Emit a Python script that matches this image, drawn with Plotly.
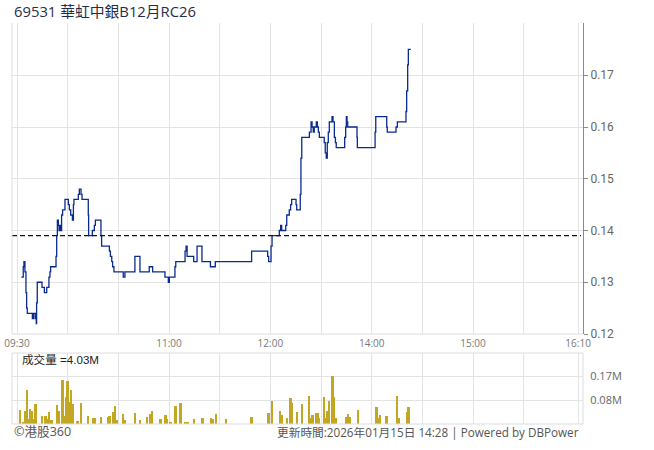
import plotly.graph_objects as go

# ---------------- data ----------------
title_text = "69531 華虹中銀B12月RC26"
prev_close = 0.139
volume_label = "成交量 =4.03M"
footer_left = "©港股360"
footer_right = "更新時間:2026年01月15日 14:28 | Powered by DBPower"

# trading minutes elapsed since 09:30 (lunch break removed) and traded price
price_elapsed_min = [
    2.6, 3.7, 4.1, 4.7, 5.3, 5.7, 6.1, 9.1, 9.7, 10.7, 11.1, 11.4, 11.6, 12.0,
    14.8, 16.2, 17.6, 18.9, 19.5, 19.9, 23.1, 23.5, 23.9, 24.5, 24.9, 25.5, 25.9,
    26.4, 27.0, 28.4, 30.4, 31.0, 31.8, 32.8, 33.4, 33.7, 36.3, 36.9, 37.9, 38.5,
    42.2, 42.4, 44.6, 45.8, 46.4, 49.7, 50.1, 54.7, 55.3, 56.1, 56.6, 57.4, 62.9,
    63.9, 69.8, 72.8, 78.3, 80.3, 87.6, 89.6, 90.2, 93.5, 94.0, 99.5, 100.1, 100.7,
    104.6, 106.6, 109.5, 114.5, 117.4, 138.9, 148.4, 149.0, 150.4, 151.0, 155.3,
    156.1, 156.7, 159.1, 159.7, 161.2, 162.0, 162.6, 165.2, 165.6, 167.7, 168.1,
    168.6, 173.1, 174.1, 174.7, 175.4, 176.0, 177.2, 177.8, 178.4, 179.0, 181.9,
    182.5, 183.1, 183.7, 184.3, 184.9, 186.5, 187.1, 187.9, 188.5, 189.0, 194.0,
    194.6, 195.0, 195.4, 195.8, 201.3, 201.5, 212.0, 212.4, 218.9, 219.2, 224.4,
    225.2, 230.3, 230.7, 231.3, 231.7, 233.1,
]
price_values = [
    0.131, 0.133, 0.134, 0.132, 0.128, 0.125, 0.124, 0.123, 0.124, 0.123, 0.124, 0.122, 0.126, 0.130,
    0.129, 0.128, 0.129, 0.131, 0.132, 0.133, 0.135, 0.139, 0.142, 0.141, 0.140, 0.141, 0.140,
    0.143, 0.144, 0.146, 0.145, 0.144, 0.143, 0.142, 0.145, 0.146, 0.147, 0.148, 0.147, 0.146,
    0.143, 0.139, 0.140, 0.141, 0.142, 0.139, 0.137, 0.136, 0.135, 0.134, 0.133, 0.132, 0.131,
    0.132, 0.135, 0.132, 0.133, 0.132, 0.131, 0.130, 0.131, 0.133, 0.134, 0.136, 0.137, 0.135,
    0.134, 0.137, 0.134, 0.133, 0.134, 0.136, 0.135, 0.134, 0.137, 0.139, 0.140,
    0.141, 0.140, 0.141, 0.143, 0.144, 0.145, 0.146, 0.145, 0.144, 0.147, 0.154,
    0.158, 0.159, 0.161, 0.160, 0.159, 0.160, 0.161, 0.160, 0.159, 0.158, 0.157,
    0.155, 0.154, 0.157, 0.159, 0.161, 0.162, 0.161, 0.158, 0.157, 0.156, 0.158,
    0.160, 0.162, 0.161, 0.160, 0.158, 0.156, 0.159, 0.162, 0.160, 0.159, 0.160,
    0.161, 0.163, 0.167, 0.172, 0.175, 0.175,
]

# per-minute volume (millions of units), minute index since 09:30 (lunch removed)
volume_minute = [
    2, 4, 5, 6, 7, 8, 9, 10, 11, 15, 17, 18, 19, 20, 21, 24, 25, 27, 28, 29, 30, 31, 32, 33,
    36, 38, 42, 45, 46, 50, 54, 55, 57, 58, 59, 63, 64, 70, 73, 77, 79, 80, 85, 88, 89, 91,
    94, 97, 100, 101, 105, 110, 115, 116, 118, 124, 139, 149, 151, 156, 157, 160, 162, 163,
    166, 169, 173, 174, 175, 177, 178, 179, 182, 183, 184, 185, 187, 188, 189, 195, 196, 197,
    202, 213, 214, 215, 219, 225, 226, 231, 232,
]
volume_m = [
    0.050, 0.005, 0.047, 0.120, 0.018, 0.053, 0.046, 0.018, 0.071, 0.028, 0.028, 0.018, 0.042,
    0.014, 0.014, 0.067, 0.046, 0.156, 0.028, 0.097, 0.152, 0.078, 0.120, 0.071,
    0.011, 0.074, 0.028, 0.021, 0.021, 0.025, 0.025, 0.028, 0.042, 0.064, 0.014, 0.035, 0.014,
    0.039, 0.014, 0.025, 0.035, 0.046, 0.018, 0.032, 0.018, 0.007,
    0.064, 0.074, 0.004, 0.004, 0.018, 0.021, 0.022, 0.019, 0.035, 0.018, 0.025, 0.039, 0.081,
    0.046, 0.032, 0.021, 0.092, 0.074,
    0.042, 0.071, 0.099, 0.021, 0.032, 0.039, 0.039, 0.021, 0.096, 0.021, 0.046, 0.081, 0.170,
    0.096, 0.021, 0.025, 0.035, 0.025,
    0.050, 0.060, 0.021, 0.032, 0.028, 0.099, 0.021, 0.042, 0.060,
]

grid_times = ["09:30", "10:00", "10:30", "11:00", "11:30", "12:00", "13:30", "14:00",
              "14:30", "15:00", "15:30", "16:10"]
labelled_times = ["09:30", "11:00", "12:00", "14:00", "15:00", "16:10"]
price_ticks = [0.12, 0.13, 0.14, 0.15, 0.16, 0.17]
volume_ticks = [0.085, 0.17]
volume_tick_text = ["0.08M", "0.17M"]


def session_minutes(hhmm):
    h, m = map(int, hhmm.split(":"))
    t = h * 60 + m
    if t <= 12 * 60:
        return t - (9 * 60 + 30)
    if t <= 16 * 60:
        return 150 + t - 13 * 60
    return 330 + (t - 16 * 60) * 0.22  # closing auction compressed


grid_vals = [session_minutes(t) for t in grid_times]
grid_text = [t if t in labelled_times else "" for t in grid_times]

X_RANGE = [-2.96, 335.1]
GRID = "#e3e3e3"

fig = go.Figure()
fig.add_trace(go.Scatter(
    x=price_elapsed_min, y=price_values, mode="lines",
    line=dict(color="#0a2b8e", width=1.3, shape="hv"),
    xaxis="x", yaxis="y", hoverinfo="skip", showlegend=False,
))
fig.add_trace(go.Bar(
    x=volume_minute, y=volume_m, width=1.1,
    marker=dict(color="#c3a722", line=dict(width=0)),
    xaxis="x2", yaxis="y2", hoverinfo="skip", showlegend=False,
))

main_dom = [0.2244, 1.0]
vol_dom = [0.0, 0.177]

shapes = [
    dict(type="line", xref="x", yref="y", x0=X_RANGE[0], x1=333.9, y0=prev_close, y1=prev_close,
         line=dict(color="#111111", width=1.2, dash="5px,3px"), layer="above"),
    dict(type="line", xref="paper", yref="paper", x0=0, x1=0, y0=main_dom[0], y1=1,
         line=dict(color="#dddddd", width=1)),
    dict(type="line", xref="paper", yref="paper", x0=0, x1=0, y0=0, y1=vol_dom[1],
         line=dict(color="#dddddd", width=1)),
    dict(type="line", xref="paper", yref="paper", x0=0, x1=1, y0=main_dom[0], y1=main_dom[0],
         line=dict(color="#dddddd", width=1)),
    dict(type="line", xref="paper", yref="paper", x0=0, x1=1, y0=vol_dom[1], y1=vol_dom[1],
         line=dict(color="#dddddd", width=1)),
    dict(type="line", xref="paper", yref="paper", x0=0, x1=1, y0=0, y1=0,
         line=dict(color="#dddddd", width=1)),
    dict(type="line", xref="paper", yref="paper", x0=1, x1=1, y0=0, y1=vol_dom[1],
         line=dict(color="#dddddd", width=1)),
]

annotations = [
    dict(text=title_text, xref="paper", yref="paper", x=0.0, y=1.029, xanchor="left",
         yanchor="middle", showarrow=False,
         font=dict(family="Open Sans, Noto Sans CJK TC", size=14.8, color="#1f2d4d")),
    dict(text=volume_label, xref="paper", yref="paper", x=0.0135, y=0.161, xanchor="left",
         yanchor="middle", showarrow=False,
         font=dict(family="Liberation Sans, Noto Sans CJK TC", size=11.6, color="#222222")),
    dict(text=footer_left, xref="paper", yref="paper", x=0.0, y=-0.019, xanchor="left",
         yanchor="middle", showarrow=False,
         font=dict(family="Open Sans, Noto Sans CJK TC", size=12.6, color="#555555")),
    dict(text=footer_right, xref="paper", yref="paper", x=0.9965, y=-0.021, xanchor="right",
         yanchor="middle", showarrow=False,
         font=dict(family="Open Sans, Noto Sans CJK TC", size=11.7, color="#555555")),
]

fig.update_layout(
    width=654, height=450,
    margin=dict(l=12, r=71, t=23, b=26, autoexpand=False),
    paper_bgcolor="white", plot_bgcolor="white",
    bargap=0,
    shapes=shapes, annotations=annotations,
    xaxis=dict(domain=[0, 1], anchor="y", range=X_RANGE, tickmode="array",
               tickvals=grid_vals, ticktext=grid_text, showgrid=True, gridcolor=GRID,
               gridwidth=1, zeroline=False, showline=False, ticks="", automargin=False,
               tickfont=dict(family="Open Sans", size=10, color="#777777"),
               ticklabelstandoff=2),
    yaxis=dict(domain=main_dom, anchor="x", side="right", range=[0.12, 0.1801],
               tickmode="array", tickvals=price_ticks,
               ticktext=[f"{v:.2f}" for v in price_ticks], automargin=False,
               showgrid=True, gridcolor=GRID, zeroline=False, showline=True,
               linecolor="#8a8a8a", linewidth=1, ticks="outside", ticklen=4,
               tickcolor="#8a8a8a",
               tickfont=dict(family="Roboto", size=12, color="#666666")),
    xaxis2=dict(domain=[0, 1], anchor="y2", range=X_RANGE, tickmode="array",
                tickvals=grid_vals, showticklabels=False, showgrid=True, gridcolor=GRID,
                zeroline=False, showline=False, ticks="", automargin=False),
    yaxis2=dict(domain=vol_dom, anchor="x2", side="right", range=[0, 0.2515],
                tickmode="array", tickvals=volume_ticks, ticktext=volume_tick_text,
                showgrid=True, gridcolor=GRID, zeroline=False, showline=False,
                ticks="outside", ticklen=4, tickcolor="rgba(0,0,0,0)", automargin=False,
                tickfont=dict(family="Open Sans", size=11, color="#666666")),
)

fig.write_html("out.html", config={"displayModeBar": False},
               post_script="document.body.style.margin='0';")
